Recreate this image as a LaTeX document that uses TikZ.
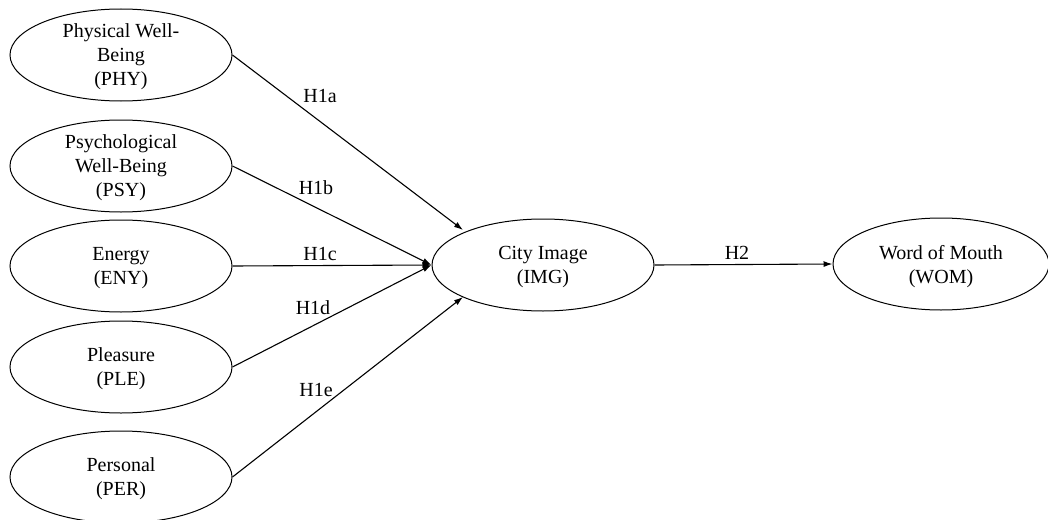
\documentclass[tikz,border=0pt]{standalone}
\usepackage{fontspec}
\setmainfont{Liberation Serif}
\usepackage{tikz}
\usetikzlibrary{shapes.geometric}
\usetikzlibrary{arrows.meta}

\tikzset{
	construct/.style={draw,line width=1pt,ellipse,minimum width=222pt,minimum height=92pt,inner sep=0pt,align=center,font=\fontsize{20}{24}\selectfont,text depth=-2pt},
	path/.style={-{Latex[length=9pt,width=6pt]},line width=1.1pt},
	hyp/.style={font=\fontsize{20}{24}\selectfont}
}

\begin{document}
\begin{tikzpicture}[x=1pt,y=-1pt]
				\useasboundingbox (0,0) rectangle (1048,519);
				%Nodes
				\node[construct] (phy) at (121,55) {Physical Well-\\Being\\(PHY)};
				\node[construct] (psy) at (121,166) {Psychological\\Well-Being\\(PSY)};
				\node[construct] (eny) at (121,266) {Energy\\(ENY)};
				\node[construct] (ple) at (121,367) {Pleasure\\(PLE)};
				\node[construct] (per) at (121,477) {Personal\\(PER)};
				\node[construct] (img) at (543,265) {City Image\\(IMG)};
				\node[construct,minimum width=216pt] (wom) at (941,264) {Word of Mouth\\(WOM)};
				\coordinate      (a1) 	at 	(463,230);
				\coordinate      (a5) 	at 	(463,297);

				%Lines
				\draw[path] (phy.east) -- (a1);
				\draw[path] (psy.east) -- (img.west);
				\draw[path] (eny.east) -- (img.west);
				\draw[path] (ple.east) -- (img.west);
				\draw[path] (per.east) -- (a5);
				\draw[path] (img.east) -- (wom.west);

				%Labels
				\node[hyp] (h1a) at (320,96) {H1a};
				\node[hyp] (h1b) at (316,188) {H1b};
				\node[hyp] (h1c) at (320,254) {H1c};
				\node[hyp] (h1d) at (313,308) {H1d};
				\node[hyp] (h1e) at (316,390) {H1e};
				\node[hyp] (h2) at (737,253) {H2};
\end{tikzpicture}
\end{document}
